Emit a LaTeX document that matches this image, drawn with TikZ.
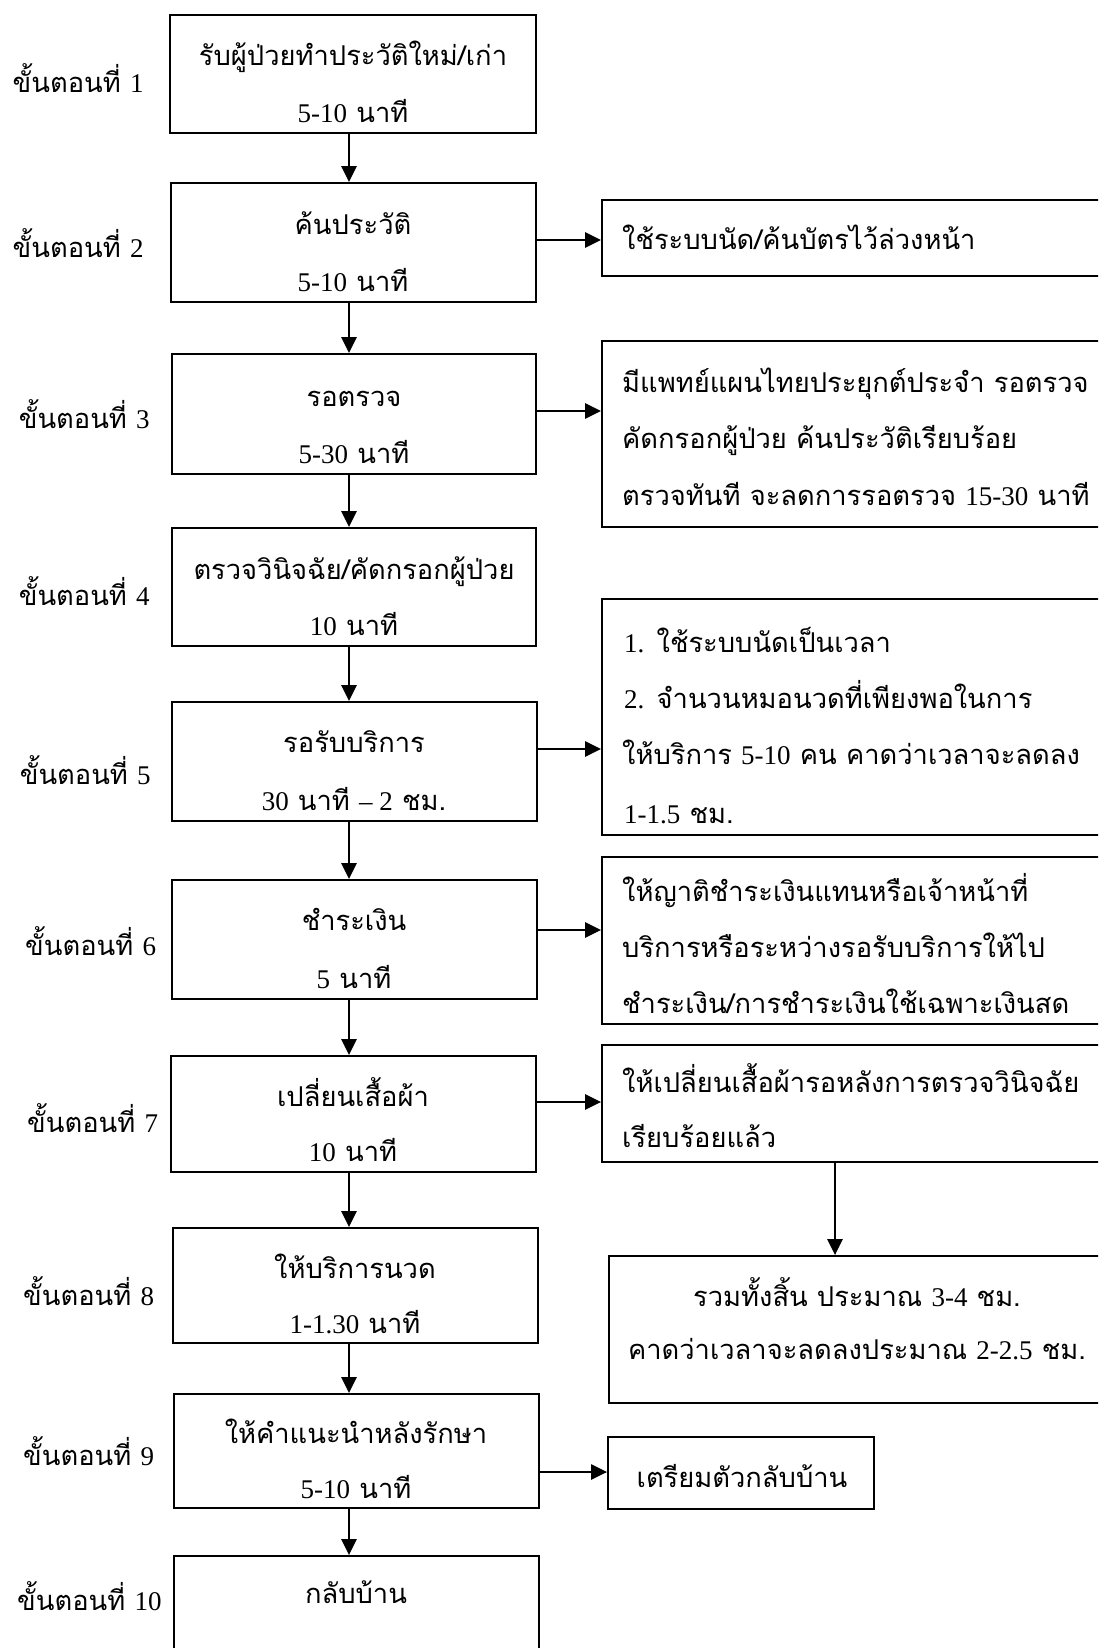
\documentclass[tikz,border=0pt]{standalone}
\usepackage{fontspec}
\setmainfont[Script=Thai]{Loma}
\newfontfamily\latfont{Liberation Serif}
\newcommand\D[1]{{\latfont\fontsize{27}{32}\selectfont #1}}
\usetikzlibrary{arrows.meta,fit}
\begin{document}
\begin{tikzpicture}[x=1pt,y=-1pt,
  box/.style={draw, line width=1.8pt, rectangle, inner sep=0pt},
  arr/.style={line width=2.4pt, -{Triangle[length=16pt,width=15pt]}},
  txt/.style={font=\fontsize{27.3}{32}\selectfont, inner sep=0pt},
  lbl/.style={txt, anchor=base west},
  ctr/.style={txt, anchor=base},
  lft/.style={txt, anchor=base west},
]
\fill[white] (0,0) rectangle (1098,1648);
\clip (0,0) rectangle (1098,1648);

% main column: box corners
\foreach \n/\xa/\ya/\xb/\yb in {1/170/15/536/133, 2/171/183/536/302, 3/172/354/536/474,
    4/172/528/536/646, 5/172/702/537/821, 6/172/880/537/999, 7/171/1056/536/1172,
    8/173/1228/538/1343, 9/174/1394/539/1508, 10/174/1556/539/1700}{
  \coordinate (s\n nw) at (\xa,\ya);
  \coordinate (s\n se) at (\xb,\yb);
}
% side boxes: corners (right edges run past the page)
\foreach \n/\xa/\ya/\xb/\yb in {2/602/200/1110/276, 3/602/341/1110/527, 5/602/599/1110/835,
    6/602/857/1110/1024, 7/602/1045/1110/1162, 9/608/1437/874/1509}{
  \coordinate (r\n nw) at (\xa,\ya);
  \coordinate (r\n se) at (\xb,\yb);
}
\coordinate (tnw) at (609,1256);
\coordinate (tse) at (1110,1403);

\foreach \n in {1,...,10}{\node[box, fit=(s\n nw)(s\n se)] (s\n) {};}
\foreach \n in {2,3,5,6,7,9}{\node[box, fit=(r\n nw)(r\n se)] (r\n) {};}
\node[box, fit=(tnw)(tse)] (tot) {};

% step labels
\node[lbl] (l1) at (12.5,93) {ขั้นตอนที่ \D{1}};
\node[lbl] (l2) at (12.5,257) {ขั้นตอนที่ \D{2}};
\node[lbl] (l3) at (18.6,428) {ขั้นตอนที่ \D{3}};
\node[lbl] (l4) at (18.6,605) {ขั้นตอนที่ \D{4}};
\node[lbl] (l5) at (19.6,784) {ขั้นตอนที่ \D{5}};
\node[lbl] (l6) at (25,955) {ขั้นตอนที่ \D{6}};
\node[lbl] (l7) at (27,1132) {ขั้นตอนที่ \D{7}};
\node[lbl] (l8) at (23,1305) {ขั้นตอนที่ \D{8}};
\node[lbl] (l9) at (23,1465) {ขั้นตอนที่ \D{9}};
\node[lbl] (l10) at (17,1610) {ขั้นตอนที่ \D{10}};

% main column texts
\node[ctr] (s1a) at (353,66) {รับผู้ป่วยทำประวัติใหม่/เก่า};
\node[ctr] (s1b) at (353,123) {\D{5-10} นาที};
\node[ctr] (s2a) at (353,234) {ค้นประวัติ};
\node[ctr] (s2b) at (353,291) {\D{5-10} นาที};
\node[ctr] (s3a) at (354,406) {รอตรวจ};
\node[ctr] (s3b) at (354,463) {\D{5-30} นาที};
\node[ctr] (s4a) at (354,579) {ตรวจวินิจฉัย/คัดกรอกผู้ป่วย};
\node[ctr] (s4b) at (354,635) {\D{10} นาที};
\node[ctr] (s5a) at (354,752) {รอรับบริการ};
\node[ctr] (s5b) at (354,810) {\D{30} นาที \D{– 2} ชม.};
\node[ctr] (s6a) at (354,930) {ชำระเงิน};
\node[ctr] (s6b) at (354,988) {\D{5} นาที};
\node[ctr] (s7a) at (353,1106) {เปลี่ยนเสื้อผ้า};
\node[ctr] (s7b) at (353,1161) {\D{10} นาที};
\node[ctr] (s8a) at (355,1278) {ให้บริการนวด};
\node[ctr] (s8b) at (355,1333) {\D{1-1.30} นาที};
\node[ctr] (s9a) at (356,1443) {ให้คำแนะนำหลังรักษา};
\node[ctr] (s9b) at (356,1498) {\D{5-10} นาที};
\node[ctr] (s10a) at (356,1603) {กลับบ้าน};

% side texts
\node[lft] (r2a) at (622,249) {ใช้ระบบนัด/ค้นบัตรไว้ล่วงหน้า};
\node[lft] (r3a) at (622,392) {มีแพทย์แผนไทยประยุกต์ประจำ รอตรวจ};
\node[lft] (r3b) at (622,448) {คัดกรอกผู้ป่วย ค้นประวัติเรียบร้อย};
\node[lft] (r3c) at (622,505) {ตรวจทันที จะลดการรอตรวจ \D{15-30} นาที};
\node[lft] (r5a) at (624,652) {\D{1.} ใช้ระบบนัดเป็นเวลา};
\node[lft] (r5b) at (624,708) {\D{2.} จำนวนหมอนวดที่เพียงพอในการ};
\node[lft] (r5c) at (622,764) {ให้บริการ \D{5-10} คน คาดว่าเวลาจะลดลง};
\node[lft] (r5d) at (624,823) {\D{1-1.5} ชม.};
\node[lft] (r6a) at (622,901) {ให้ญาติชำระเงินแทนหรือเจ้าหน้าที่};
\node[lft] (r6b) at (622,957) {บริการหรือระหว่างรอรับบริการให้ไป};
\node[lft] (r6c) at (622,1013) {ชำระเงิน/การชำระเงินใช้เฉพาะเงินสด};
\node[lft] (r7a) at (622,1092) {ให้เปลี่ยนเสื้อผ้ารอหลังการตรวจวินิจฉัย};
\node[lft] (r7b) at (622,1147) {เรียบร้อยแล้ว};
\node[ctr] (ta) at (857,1306) {รวมทั้งสิ้น ประมาณ \D{3-4} ชม.};
\node[ctr] (tb) at (857,1359) {คาดว่าเวลาจะลดลงประมาณ \D{2-2.5} ชม.};
\node[ctr] (r9a) at (742,1487) {เตรียมตัวกลับบ้าน};

% connectors
\coordinate (ax) at (349,0);
\foreach \a/\b in {1/2,2/3,3/4,4/5,5/6,6/7,7/8,8/9,9/10}{
  \draw[arr] (s\a.south -| ax) -- (s\b.north -| ax);
}
\foreach \n/\y in {2/240,3/411,5/749,6/930,7/1102,9/1472}{
  \coordinate (h\n) at (0,\y);
  \draw[arr] (h\n -| s\n.east) -- (h\n -| r\n.west);
}
\coordinate (bx) at (835,0);
\draw[arr] (r7.south -| bx) -- (tot.north -| bx);
\end{tikzpicture}
\end{document}
